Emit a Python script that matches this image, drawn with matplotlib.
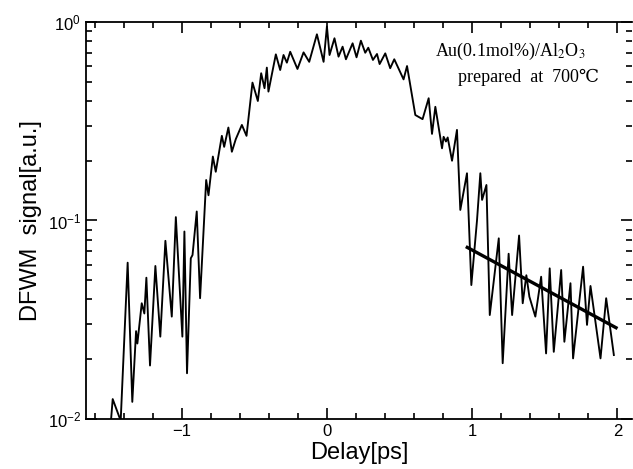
import numpy as np
import matplotlib
matplotlib.use("Agg")
import matplotlib.pyplot as plt
from matplotlib.ticker import MultipleLocator, LogLocator, NullFormatter

# DFWM trace (delay in ps, signal in a.u.)
delay = [-1.490, -1.478, -1.423, -1.375, -1.343, -1.317, -1.308, -1.278, -1.260, -1.246,
         -1.221, -1.184, -1.150, -1.115, -1.071, -1.043, -0.998, -0.984, -0.966, -0.940,
         -0.928, -0.899, -0.876, -0.834, -0.818, -0.788, -0.768, -0.726, -0.710, -0.681,
         -0.657, -0.630, -0.588, -0.556, -0.515, -0.478, -0.455, -0.432, -0.416, -0.405,
         -0.354, -0.324, -0.301, -0.278, -0.255, -0.205, -0.163, -0.124, -0.071, -0.025,
         -0.002, 0.016, 0.050, 0.078, 0.106, 0.129, 0.175, 0.202, 0.232, 0.262,
         0.283, 0.315, 0.343, 0.361, 0.400, 0.434, 0.462, 0.526, 0.550, 0.607,
         0.657, 0.699, 0.722, 0.745, 0.791, 0.802, 0.818, 0.830, 0.860, 0.894,
         0.917, 0.963, 0.993, 1.032, 1.055, 1.067, 1.097, 1.120, 1.182, 1.209,
         1.250, 1.274, 1.322, 1.347, 1.372, 1.393, 1.434, 1.474, 1.508, 1.533,
         1.561, 1.612, 1.634, 1.676, 1.694, 1.763, 1.790, 1.814, 1.883, 1.922,
         1.975]
signal = [0.0098, 0.0126, 0.0098, 0.0613, 0.0122, 0.0277, 0.0240, 0.0383, 0.0340, 0.0515,
          0.0186, 0.0590, 0.0260, 0.0790, 0.0328, 0.1040, 0.0260, 0.0880, 0.0170, 0.0645,
          0.0670, 0.1110, 0.0406, 0.1600, 0.1340, 0.2100, 0.1760, 0.2670, 0.2350, 0.2940,
          0.2220, 0.2570, 0.3030, 0.2670, 0.4950, 0.4000, 0.5520, 0.4640, 0.5890, 0.4460,
          0.6870, 0.5730, 0.6820, 0.6240, 0.7080, 0.5800, 0.7030, 0.6300, 0.8670, 0.6300,
          0.9500, 0.6820, 0.8280, 0.6690, 0.7510, 0.6490, 0.7810, 0.6640, 0.8050, 0.7000,
          0.7420, 0.6440, 0.6900, 0.6140, 0.6950, 0.5850, 0.6490, 0.5140, 0.6000, 0.3400,
          0.3240, 0.4130, 0.2730, 0.3740, 0.2310, 0.2640, 0.2500, 0.2620, 0.2000, 0.2860,
          0.1130, 0.1730, 0.0473, 0.1000, 0.1730, 0.1270, 0.1510, 0.0334, 0.0813, 0.0191,
          0.0680, 0.0334, 0.0840, 0.0383, 0.0530, 0.0413, 0.0328, 0.0521, 0.0214, 0.0574,
          0.0218, 0.0563, 0.0245, 0.0483, 0.0202, 0.0585, 0.0298, 0.0468, 0.0202, 0.0406,
          0.0210]

# single-exponential fit of the tail
fit_range = [0.955, 2.0]
fit_amp = 0.176
fit_tau = 1.10  # ps

fig = plt.figure(figsize=(6.33, 4.69), dpi=100)
ax = fig.add_axes([86 / 633, 1 - 419 / 469, 546 / 633, 397 / 469])

ax.plot(delay, signal, color="black", lw=1.35)
fx = np.linspace(fit_range[0], fit_range[1], 50)
ax.plot(fx, fit_amp * np.exp(-fx / fit_tau), color="black", lw=2.4, solid_capstyle="butt")

ax.set_yscale("log")
ax.set_xlim(-1.662, 2.10)
ax.set_ylim(1e-2, 1e0)

ax.xaxis.set_major_locator(MultipleLocator(1))
ax.xaxis.set_minor_locator(MultipleLocator(0.2))
ax.yaxis.set_major_locator(LogLocator(base=10))
ax.yaxis.set_minor_locator(LogLocator(base=10, subs=np.arange(2, 10)))
ax.yaxis.set_minor_formatter(NullFormatter())

ax.tick_params(which="both", direction="in", top=True, right=True, width=1.2, labelsize=12)
ax.tick_params(which="major", length=8)
ax.tick_params(which="minor", length=4)
ax.spines["right"].set_visible(False)
for s in ["left", "bottom", "top"]:
    ax.spines[s].set_linewidth(1.3)

for lab in ax.get_xticklabels() + ax.get_yticklabels():
    lab.set_family("Liberation Sans")

ax.set_xlabel("Delay[ps]", family="Liberation Sans", fontsize=17, labelpad=2)
ax.set_ylabel("DFWM  signal[a.u.]", family="Liberation Sans", fontsize=17, labelpad=4)

plt.rcParams["mathtext.fontset"] = "stix"
ax.text(0.915, 0.925, "Au(0.1mol%)/Al$_2$O$_3$", transform=ax.transAxes,
        ha="right", va="center", fontsize=13, family=["Liberation Serif", "DejaVu Serif"])
ax.text(0.94, 0.86, "prepared  at  700\u2103", transform=ax.transAxes,
        ha="right", va="center", fontsize=13, family=["Liberation Serif", "DejaVu Serif"])

fig.savefig("out.png", dpi=100)
